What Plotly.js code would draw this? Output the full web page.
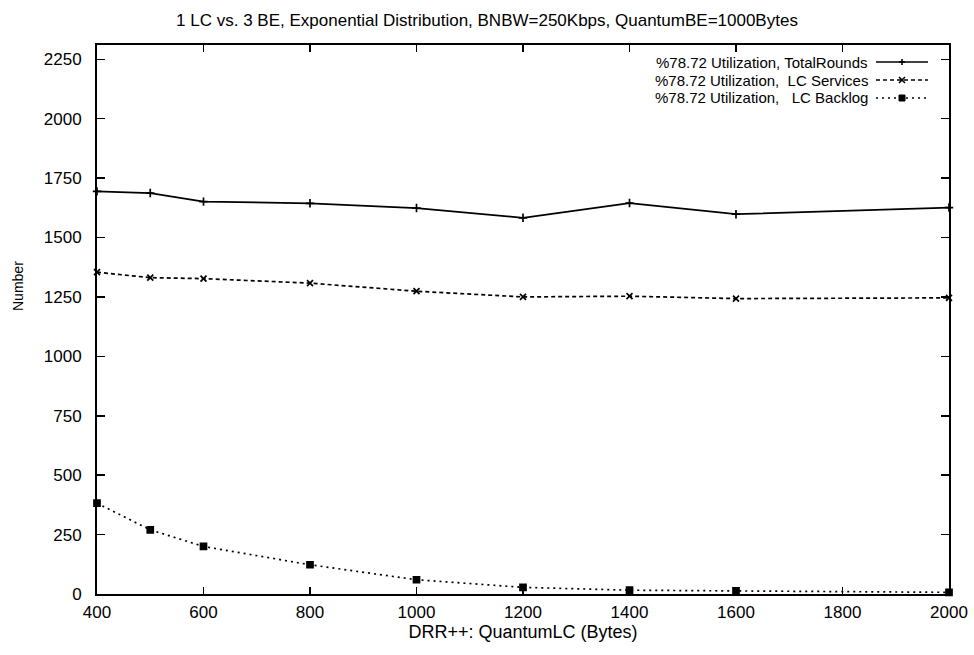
<!DOCTYPE html>
<html><head><meta charset="utf-8">
<script src="https://cdn.plot.ly/plotly-3.0.1.min.js"></script>
<style>body{margin:0;background:#fff}#c{width:974px;height:655px}</style>
</head><body><div id="c"></div>
<script>
const quantumLC = [400, 500, 600, 800, 1000, 1200, 1400, 1600, 2000];
const totalRounds = [1694, 1687, 1651, 1644, 1624, 1583, 1645, 1598, 1626];
const lcServices = [1354, 1331, 1327, 1308, 1274, 1250, 1253, 1243, 1246];
const lcBacklog = [382, 270, 200, 123, 60, 28, 16, 13, 7];
const seriesNames = ["%78.72 Utilization, TotalRounds", "%78.72 Utilization,  LC Services", "%78.72 Utilization,   LC Backlog"];
const xTicks = [400, 600, 800, 1000, 1200, 1400, 1600, 1800, 2000];
const yTicks = [0, 250, 500, 750, 1000, 1250, 1500, 1750, 2000, 2250];

const FONT = "Liberation Sans, Arial, sans-serif";
const styles = [
  {dash: "solid", symbol: "cross-thin-open", size: 6},
  {dash: "4px,3px", symbol: "x-thin-open", size: 6},
  {dash: "2px,4px", symbol: "square", size: 6}
];
const ys = [totalRounds, lcServices, lcBacklog];
const traces = ys.map((y, i) => ({
  x: quantumLC, y: y, type: "scatter", mode: "lines+markers", name: seriesNames[i],
  line: {color: "#000", width: 1.7, dash: styles[i].dash},
  marker: {color: "#000", symbol: styles[i].symbol, size: styles[i].size, line: {color: "#000", width: 1.7}},
  showlegend: false, cliponaxis: false
}));

// plot-area geometry in pixels (used only to place the hand-drawn legend)
const L = 97, R = 949, T = 45, B = 594;
const px = v => (v - L) / (R - L), py = v => (B - v) / (B - T);

const annotations = [], shapes = [];
const rows = [62, 80, 98];
const txtX = px(870), l0 = px(876), l1 = px(928), mx = px(902);
const dx = 3 / (R - L), dy = 3 / (B - T);
seriesNames.forEach((n, i) => {
  const yy = py(rows[i]);
  annotations.push({xref: "paper", yref: "paper", x: txtX, y: yy, text: n, showarrow: false,
    xanchor: "right", yanchor: "middle", font: {family: FONT, size: 15, color: "#000"}});
  shapes.push({type: "line", xref: "paper", yref: "paper", x0: l0, x1: l1, y0: yy, y1: yy,
    line: {color: "#000", width: 1.6, dash: styles[i].dash}});
});
const y1p = py(rows[0]), y2p = py(rows[1]), y3p = py(rows[2]);
shapes.push({type: "line", xref: "paper", yref: "paper", x0: mx - dx, x1: mx + dx, y0: y1p, y1: y1p, line: {color: "#000", width: 1.6}});
shapes.push({type: "line", xref: "paper", yref: "paper", x0: mx, x1: mx, y0: y1p - dy, y1: y1p + dy, line: {color: "#000", width: 1.6}});
shapes.push({type: "line", xref: "paper", yref: "paper", x0: mx - dx, x1: mx + dx, y0: y2p - dy, y1: y2p + dy, line: {color: "#000", width: 1.6}});
shapes.push({type: "line", xref: "paper", yref: "paper", x0: mx - dx, x1: mx + dx, y0: y2p + dy, y1: y2p - dy, line: {color: "#000", width: 1.6}});
shapes.push({type: "rect", xref: "paper", yref: "paper", x0: mx - dx, x1: mx + dx, y0: y3p - dy, y1: y3p + dy, fillcolor: "#000", line: {color: "#000", width: 1}});

// y-axis title placed like the reference
annotations.push({xref: "paper", yref: "paper", x: px(18), y: py(286), text: "Number", textangle: -90,
  showarrow: false, xanchor: "center", yanchor: "middle", font: {family: FONT, size: 14, color: "#000"}});

const layout = {
  width: 974, height: 655,
  margin: {l: L, r: 974 - R, t: T, b: 655 - B},
  paper_bgcolor: "#fff", plot_bgcolor: "#fff",
  font: {family: FONT, size: 17, color: "#000"},
  title: {text: "1 LC vs. 3 BE, Exponential Distribution, BNBW=250Kbps, QuantumBE=1000Bytes",
    font: {family: FONT, size: 17, color: "#000"}, x: 0.5, xanchor: "center", xref: "container",
    y: 1 - 20 / 655, yanchor: "middle"},
  xaxis: {range: [400, 2000], tickvals: xTicks, ticks: "inside", ticklen: 7, tickwidth: 1.5, tickcolor: "#000",
    showline: true, linecolor: "#000", linewidth: 2, mirror: "ticks", showgrid: false, zeroline: false,
    tickfont: {family: FONT, size: 17}, ticklabelstandoff: 2,
    title: {text: "DRR++: QuantumLC (Bytes)", font: {family: FONT, size: 18}, standoff: 4}},
  yaxis: {range: [0, 2310], tickvals: yTicks, ticks: "inside", ticklen: 8, tickwidth: 1.5, tickcolor: "#000",
    showline: true, linecolor: "#000", linewidth: 2, mirror: "ticks", showgrid: false, zeroline: false,
    tickfont: {family: FONT, size: 17}, ticklabelstandoff: 10},
  annotations: annotations, shapes: shapes
};
Plotly.newPlot("c", traces, layout, {displayModeBar: false, staticPlot: true});
</script></body></html>
